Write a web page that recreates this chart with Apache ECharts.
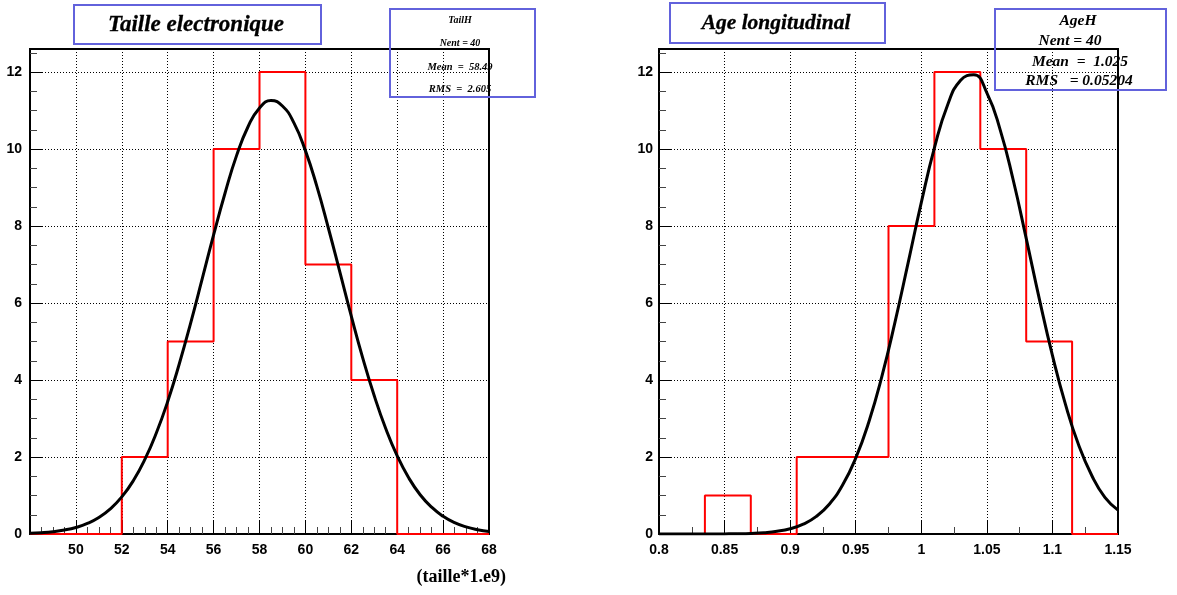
<!DOCTYPE html>
<html>
<head>
<meta charset="utf-8">
<script src="https://cdn.jsdelivr.net/npm/echarts@6/dist/echarts.min.js"></script>
<style>
html,body{margin:0;padding:0;background:#fff;}
#chart{width:1177px;height:595px;}
</style>
</head>
<body>
<div id="chart"></div>
<script>
// ---------- DATA ----------
// Left histogram: "Taille electronique"
const leftEdges  = [48, 50, 52, 54, 56, 58, 60, 62, 64, 66, 68];
const leftCounts = [0, 0, 2, 5, 10, 12, 7, 4, 0, 0];
const leftFitX = [48, 48.5, 49, 49.5, 50, 50.5, 51, 51.5, 52, 52.5, 53, 53.5, 54, 54.5, 55, 55.5, 56, 56.5, 57, 57.5, 58, 58.5, 59, 59.5, 60, 60.5, 61, 61.5, 62, 62.5, 63, 63.5, 64, 64.5, 65, 65.5, 66, 66.5, 67, 67.5, 68];
const leftFitY = [0.019, 0.034, 0.060, 0.103, 0.170, 0.274, 0.429, 0.653, 0.964, 1.383, 1.930, 2.616, 3.44, 4.41, 5.48, 6.62, 7.77, 8.86, 9.83, 10.58, 11.07, 11.26, 11.12, 10.68, 9.96, 9.03, 7.95, 6.81, 5.66, 4.57, 3.59, 2.74, 2.03, 1.46, 1.02, 0.696, 0.459, 0.295, 0.184, 0.112, 0.066];
const leftXTicks = [50, 52, 54, 56, 58, 60, 62, 64, 66, 68];
const leftXMinor = [48.5, 49, 49.5, 50.5, 51, 51.5, 52.5, 53, 53.5, 54.5, 55, 55.5, 56.5, 57, 57.5, 58.5, 59, 59.5, 60.5, 61, 61.5, 62.5, 63, 63.5, 64.5, 65, 65.5, 66.5, 67, 67.5];

// Right histogram: "Age longitudinal"
const rightEdges  = [0.8, 0.835, 0.87, 0.905, 0.94, 0.975, 1.01, 1.045, 1.08, 1.115, 1.15];
const rightCounts = [0, 1, 0, 2, 2, 8, 12, 10, 5, 0];
const rightFitX = [0.80, 0.81, 0.82, 0.83, 0.84, 0.85, 0.86, 0.87, 0.88, 0.89, 0.90, 0.91, 0.92, 0.93, 0.94, 0.95, 0.96, 0.97, 0.98, 0.99, 1.00, 1.01, 1.02, 1.03, 1.04, 1.05, 1.06, 1.07, 1.08, 1.09, 1.10, 1.11, 1.12, 1.13, 1.14, 1.15];
const rightFitY = [0, 0, 0, 0, 0.001, 0.003, 0.007, 0.016, 0.034, 0.070, 0.137, 0.256, 0.458, 0.781, 1.27, 1.97, 2.91, 4.10, 5.51, 7.05, 8.61, 10.03, 11.14, 11.79, 11.93, 11.46, 10.52, 9.21, 7.68, 6.11, 4.64, 3.36, 2.31, 1.52, 0.95, 0.62];
const rightXTicks = [0.8, 0.85, 0.9, 0.95, 1, 1.05, 1.1, 1.15];
const rightXMinor = [0.825, 0.875, 0.925, 0.975, 1.025, 1.075, 1.125];

// Shared y axis
const yTicks = [0, 2, 4, 6, 8, 10, 12];
const yMinor = [0.5, 1, 1.5, 2.5, 3, 3.5, 4.5, 5, 5.5, 6.5, 7, 7.5, 8.5, 9, 9.5, 10.5, 11, 11.5, 12.5];
const yMax = 12.6;

// Texts
const leftTitle = 'Taille electronique';
const rightTitle = 'Age longitudinal';
const leftStats = ['TailH', 'Nent = 40', 'Mean  =  58.49', 'RMS  =  2.605'];
const rightStats = ['AgeH', 'Nent = 40', 'Mean  =  1.025', 'RMS   = 0.05204'];
const leftXName = '(taille*1.e9)';

// ---------- BUILD ----------
function stepData(edges, counts) {
  return edges.map((e, i) => [e, i < counts.length ? counts[i] : counts[counts.length - 1]]);
}
function zip(xs, ys) { return xs.map((x, i) => [x, ys[i]]); }

const labelFont = { fontFamily: 'Liberation Sans', fontWeight: 'bold', fontSize: 14, color: '#000' };
const dotted = { color: '#000', width: 1, type: [1, 2] };

function mainX(grid, min, max, interval, ticks) {
  return {
    type: 'value', gridIndex: grid, min: min, max: max, interval: interval,
    axisLine: { show: false },
    axisTick: { show: true, inside: true, length: 13, customValues: ticks, lineStyle: { color: '#000', width: 1 } },
    axisLabel: Object.assign({ customValues: ticks, margin: 9, formatter: v => String(v) }, labelFont),
    splitLine: { show: true, lineStyle: dotted }
  };
}
function minorX(grid, min, max, ticks) {
  return {
    type: 'value', gridIndex: grid, min: min, max: max, position: 'bottom',
    axisLine: { show: false },
    axisTick: { show: true, inside: true, length: 7, customValues: ticks, lineStyle: { color: '#444', width: 1 } },
    axisLabel: { show: false }, splitLine: { show: false }
  };
}
function mainY(grid, margin) {
  return {
    type: 'value', gridIndex: grid, min: 0, max: yMax, interval: 2,
    axisLine: { show: false },
    axisTick: { show: true, inside: true, length: 13, customValues: yTicks, lineStyle: { color: '#000', width: 1 } },
    axisLabel: Object.assign({ customValues: yTicks, margin: margin }, labelFont),
    splitLine: { show: true, lineStyle: dotted }
  };
}
function minorY(grid) {
  return {
    type: 'value', gridIndex: grid, min: 0, max: yMax, position: 'left',
    axisLine: { show: false },
    axisTick: { show: true, inside: true, length: 7, customValues: yMinor, lineStyle: { color: '#444', width: 1 } },
    axisLabel: { show: false }, splitLine: { show: false }
  };
}

const boxColor = '#6262dc';
function box(x, y, w, h) {
  return { type: 'rect', shape: { x: x, y: y, width: w, height: h }, style: { fill: null, stroke: boxColor, lineWidth: 2 }, z: 10 };
}
function txt(s, x, y, size, heavy) {
  const st = { text: s, font: 'italic bold ' + size + 'px "Liberation Serif"', fill: '#000', align: 'center', verticalAlign: 'middle' };
  if (heavy) { st.stroke = '#000'; st.lineWidth = heavy; }
  return { type: 'text', x: x, y: y, style: st, z: 11 };
}

const option = {
  animation: false,
  backgroundColor: '#fff',
  grid: [
    { left: 30, top: 49, width: 459, height: 485, show: true, borderColor: '#000', borderWidth: 2, backgroundColor: 'transparent' },
    { left: 659, top: 49, width: 459, height: 485, show: true, borderColor: '#000', borderWidth: 2, backgroundColor: 'transparent' }
  ],
  xAxis: [
    mainX(0, 48, 68, 2, leftXTicks),
    minorX(0, 48, 68, leftXMinor),
    mainX(1, 0.8, 1.15, 0.05, rightXTicks),
    minorX(1, 0.8, 1.15, rightXMinor)
  ],
  yAxis: [
    mainY(0, 8),
    minorY(0),
    mainY(1, 6),
    minorY(1)
  ],
  series: [
    { type: 'line', xAxisIndex: 0, yAxisIndex: 0, step: 'end', data: stepData(leftEdges, leftCounts), symbol: 'none', lineStyle: { color: '#ff0000', width: 2 }, z: 3 },
    { type: 'line', xAxisIndex: 0, yAxisIndex: 0, smooth: true, data: zip(leftFitX, leftFitY), symbol: 'none', lineStyle: { color: '#000', width: 3 }, z: 4 },
    { type: 'line', xAxisIndex: 2, yAxisIndex: 2, step: 'end', data: stepData(rightEdges, rightCounts), symbol: 'none', lineStyle: { color: '#ff0000', width: 2 }, z: 3 },
    { type: 'line', xAxisIndex: 2, yAxisIndex: 2, smooth: true, data: zip(rightFitX, rightFitY), symbol: 'none', lineStyle: { color: '#000', width: 3 }, z: 4 }
  ],
  graphic: [
    box(74, 5, 247, 39),
    txt(leftTitle, 196, 25, 23, 0.3),
    box(390, 9, 145, 88),
    txt(leftStats[0], 460, 20, 10),
    txt(leftStats[1], 460, 43, 10),
    txt(leftStats[2], 460, 67, 10.5),
    txt(leftStats[3], 460, 89, 10.5),
    box(670, 3, 215, 40),
    txt(rightTitle, 776, 23, 21.5, 0.3),
    box(995, 9, 171, 81),
    txt(rightStats[0], 1078, 21, 15.5),
    txt(rightStats[1], 1070, 41, 15.5),
    txt(rightStats[2], 1080, 62, 15.5),
    txt(rightStats[3], 1079, 81, 15.5),
    { type: 'text', x: 506, y: 577, style: { text: leftXName, font: 'bold 18px "Liberation Serif"', fill: '#000', align: 'right', verticalAlign: 'middle' }, z: 11 }
  ]
};

const chart = echarts.init(document.getElementById('chart'), null, { renderer: 'canvas' });
chart.setOption(option);
</script>
</body>
</html>
